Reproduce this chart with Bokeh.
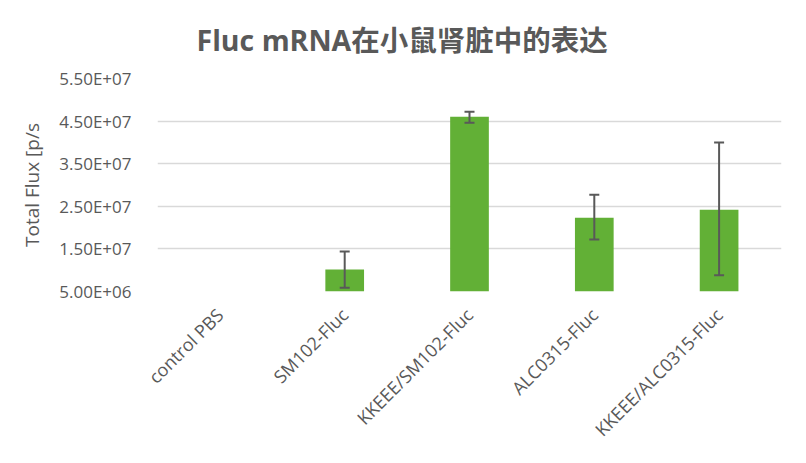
from bokeh.plotting import figure
from bokeh.models import (ColumnDataSource, Range1d, FixedTicker,
                          Whisker, TeeHead, CDSView, BooleanFilter)
from bokeh.embed import file_html
from bokeh.resources import INLINE
import math

# ---- data ----
categories = ["control PBS", "SM102-Fluc", "KKEEE/SM102-Fluc", "ALC0315-Fluc", "KKEEE/ALC0315-Fluc"]
flux_mean = [2.0e5, 1.015e7, 4.60e7, 2.23e7, 2.42e7]
flux_upper = [float("nan"), 1.44e7, 4.72e7, 2.77e7, 4.00e7]
flux_lower = [float("nan"), 5.9e6, 4.46e7, 1.72e7, 8.8e6]
y_ticks = [5.0e6, 1.5e7, 2.5e7, 3.5e7, 4.5e7, 5.5e7]
y_tick_labels = ["5.00E+06", "1.50E+07", "2.50E+07", "3.50E+07", "4.50E+07", "5.50E+07"]
title_text = "Fluc mRNA在小鼠肾脏中的表达"
y_label = "Total Flux [p/s"

TXT = "#595959"
FONT = "Open Sans"

idx = list(range(len(categories)))
y_min = y_ticks[0]

p = figure(width=790, height=455, x_range=Range1d(-0.5, len(categories) - 0.5),
           y_range=Range1d(y_min, y_ticks[-1]),
           output_backend="svg", toolbar_location=None,
           min_border_left=157, min_border_right=9,
           min_border_top=78, min_border_bottom=164)
p.outline_line_color = None
p.background_fill_color = "white"

src = ColumnDataSource(dict(x=idx, cat=categories, mean=flux_mean,
                            upper=flux_upper, lower=flux_lower))
# bars below the axis minimum are not visible in the chart
visible = CDSView(filter=BooleanFilter([m > y_min for m in flux_mean]))
p.vbar(x="x", top="mean", bottom=y_min, width=0.31, source=src, view=visible,
       fill_color="#62B036", line_color=None)

w = Whisker(base="x", upper="upper", lower="lower", source=src,
            line_color="#595959", line_width=2, level="overlay",
            upper_head=TeeHead(size=10, line_color="#595959", line_width=2),
            lower_head=TeeHead(size=10, line_color="#595959", line_width=2))
p.add_layout(w)

# y axis
p.yaxis.ticker = FixedTicker(ticks=y_ticks)
p.yaxis.major_label_overrides = {t: l for t, l in zip(y_ticks, y_tick_labels)}
p.yaxis.axis_line_color = None
p.yaxis.major_tick_line_color = None
p.yaxis.minor_tick_line_color = None
p.yaxis.major_label_text_font = FONT
p.yaxis.major_label_text_font_size = "17px"
p.yaxis.major_label_text_color = TXT
p.yaxis.major_label_standoff = 20
p.yaxis.axis_label = y_label
p.yaxis.axis_label_text_font = FONT
p.yaxis.axis_label_text_font_size = "19px"
p.yaxis.axis_label_text_font_style = "normal"
p.yaxis.axis_label_text_color = TXT
p.yaxis.axis_label_standoff = 11

p.xgrid.grid_line_color = None
p.ygrid.grid_line_color = "#D9D9D9"
p.ygrid.grid_line_width = 1.5

# x axis: category names at the bar positions
p.xaxis.ticker = FixedTicker(ticks=idx)
p.xaxis.major_label_overrides = {i: c for i, c in zip(idx, categories)}
p.xaxis.major_label_orientation = math.pi / 4
p.xaxis.axis_line_color = None
p.xaxis.major_tick_line_color = None
p.xaxis.minor_tick_line_color = None
p.xaxis.major_label_text_font = FONT
p.xaxis.major_label_text_font_size = "18px"
p.xaxis.major_label_text_color = TXT
p.xaxis.major_label_standoff = 14

p.title.text = title_text
p.title.align = "left"
p.title.offset = 39
p.title.vertical_align = "top"
p.title.text_font = FONT + ", Noto Sans CJK SC"
p.title.text_font_size = "28.5px"
p.title.text_font_style = "bold"
p.title.text_color = TXT
p.title.standoff = 36

open("out.html", "w").write(file_html(p, INLINE))
